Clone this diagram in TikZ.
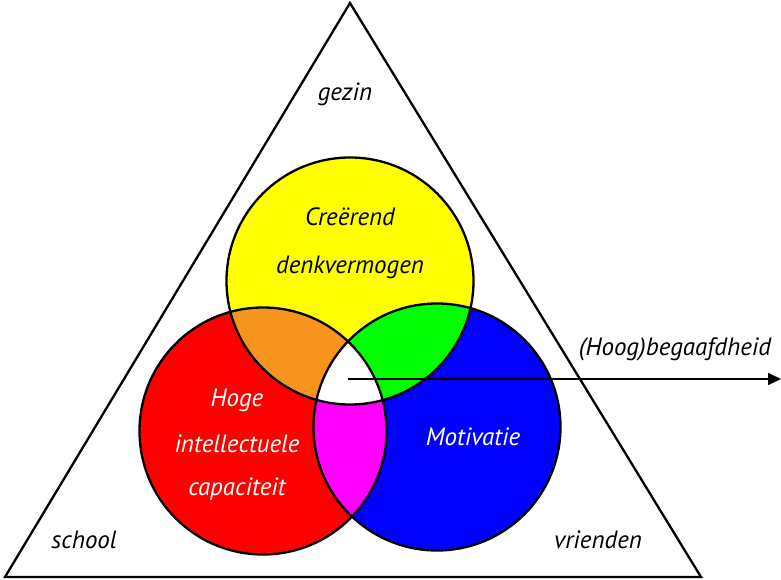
\documentclass[tikz,border=0pt]{standalone}
\usepackage{fontspec}
\setmainfont{PT Sans}
\usetikzlibrary{arrows.meta}
\definecolor{creat}{HTML}{FFFF00}
\definecolor{intel}{HTML}{FF0000}
\definecolor{motiv}{HTML}{0000FF}
\definecolor{creatintel}{HTML}{F7941E}
\definecolor{creatmotiv}{HTML}{00FF00}
\definecolor{intelmotiv}{HTML}{FF00FF}
\tikzset{lab/.style={font=\itshape\fontsize{25}{30}\selectfont,inner sep=0pt},wlab/.style={lab,text=white},ring/.style={draw=black,line width=2.3pt},frame/.style={draw=black,line width=2.3pt,line join=miter},arrow/.style={-{Triangle[length=13pt,width=12pt]},line width=1.6pt}}
\begin{document}
\begin{tikzpicture}[x=1pt,y=1pt]
\useasboundingbox (0,0) rectangle (781,579);
\coordinate (y) at (350,298);\coordinate (r) at (263,148);\coordinate (b) at (437,152);
\def\rad{123.5}
\fill[fill=creat] (y) circle (\rad);\fill[fill=intel] (r) circle (\rad);\fill[fill=motiv] (b) circle (\rad);
\begin{scope}\clip (y) circle (\rad);\fill[fill=creatintel] (r) circle (\rad);\fill[fill=creatmotiv] (b) circle (\rad);\end{scope}
\begin{scope}\clip (r) circle (\rad);\fill[fill=intelmotiv] (b) circle (\rad);\clip (b) circle (\rad);\fill[white] (y) circle (\rad);\end{scope}
\draw[ring] (y) circle (\rad) (r) circle (\rad) (b) circle (\rad);
\draw[frame] (5,2) coordinate (sl) -- (350,576) coordinate (top) -- (701,2) coordinate (sr) -- cycle;
\node[lab] (gezin) at (345,485) {gezin};
\node[lab] (school) at (84,39) {school};
\node[lab] (vrienden) at (598,39) {vrienden};
\node[lab] (cre) at (350,362) {Creërend};
\node[lab] (denk) at (350,312) {denkvermogen};
\node[wlab] (hoge) at (237,179) {Hoge};
\node[wlab] (intelnode) at (237,135) {intellectuele};
\node[wlab] (cap) at (237,90) {capaciteit};
\node[wlab] (mot) at (473,142) {Motivatie};
\node[lab] (begaafd) at (675,230) {(Hoog)begaafdheid};
\coordinate (core) at (348,200);\coordinate (out) at (781,200);
\draw[arrow] (core) -- (out);
\end{tikzpicture}
\end{document}
